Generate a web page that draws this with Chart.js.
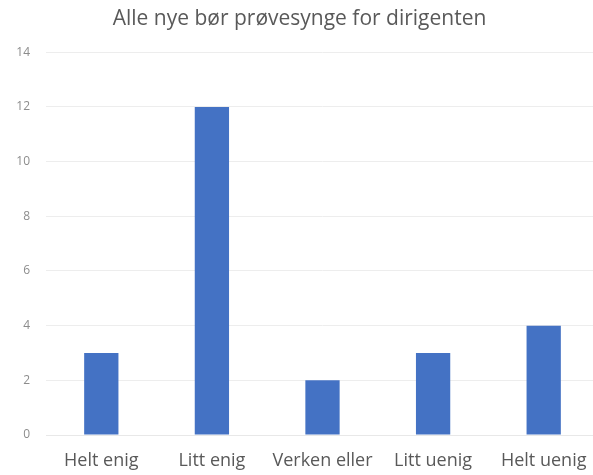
<!DOCTYPE html>
<html>
<head>
<meta charset="utf-8">
<script src="https://cdn.jsdelivr.net/npm/chart.js@4/dist/chart.umd.min.js"></script>
<style>
html,body{margin:0;padding:0;background:#fff;overflow:hidden;}
#clip{width:593px;height:475px;overflow:hidden;position:relative;}
#wrap{width:612px;height:475px;position:absolute;left:0;top:0;}
</style>
</head>
<body>
<div id="clip"><div id="wrap"><canvas id="c"></canvas></div></div>
<script>
const title = "Alle nye bør prøvesynge for dirigenten";
const categories = ["Helt enig", "Litt enig", "Verken eller", "Litt uenig", "Helt uenig"];
const values = [3, 12, 2, 3, 4];
const yMin = 0, yMax = 14, yStep = 2;

new Chart(document.getElementById('c'), {
  type: 'bar',
  data: {
    labels: categories,
    datasets: [{
      data: values,
      backgroundColor: '#4472C4',
      borderWidth: 0,
      categoryPercentage: 1,
      barPercentage: 0.31
    }]
  },
  options: {
    responsive: true,
    maintainAspectRatio: false,
    animation: false,
    layout: { padding: { left: 0, right: 13, top: 0, bottom: 0 } },
    plugins: {
      legend: { display: false },
      tooltip: { enabled: false },
      title: {
        display: true,
        text: title,
        color: '#595959',
        font: { family: 'Open Sans', size: 21, weight: 'normal' },
        padding: { top: 6, bottom: 21 }
      }
    },
    scales: {
      x: {
        grid: { display: false, drawTicks: false },
        border: { display: true, color: '#e8e8e8' },
        ticks: { color: '#595959', font: { family: 'Open Sans', size: 18 }, padding: 15, maxRotation: 0, autoSkip: false },
        afterFit: s => { s.height = 40; }
      },
      y: {
        min: yMin, max: yMax,
        ticks: { stepSize: yStep, color: '#8c8c8c', font: { family: 'Open Sans', size: 12 }, padding: 16 },
        grid: { color: '#ededed', drawTicks: false },
        border: { display: false },
        afterFit: s => { s.width = 46; }
      }
    }
  }
});
</script>
</body>
</html>
